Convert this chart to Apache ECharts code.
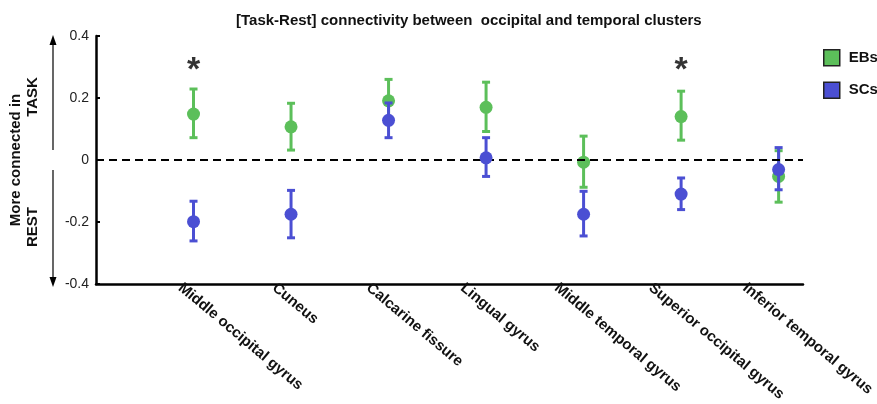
<!DOCTYPE html>
<html>
<head>
<meta charset="utf-8">
<script src="https://cdn.jsdelivr.net/npm/echarts@6/dist/echarts.min.js"></script>
<style>html,body{margin:0;padding:0;background:#fff}#c{width:877px;height:404px}</style>
</head>
<body>
<div id="c"></div>
<script>
var categories = ['Middle occipital gyrus','Cuneus','Calcarine fissure','Lingual gyrus','Middle temporal gyrus','Superior occipital gyrus','Inferior temporal gyrus'];
var positions = [1,2,3,4,5,6,7];
var ebMean = [0.148, 0.107, 0.191, 0.170, -0.007, 0.140, -0.053];
var ebHigh = [0.229, 0.183, 0.260, 0.251, 0.077, 0.222, 0.030];
var ebLow  = [0.072, 0.032, 0.122, 0.092, -0.088, 0.064, -0.136];
var scMean = [-0.199, -0.175, 0.128, 0.007, -0.175, -0.110, -0.031];
var scHigh = [-0.133, -0.098, 0.184, 0.072, -0.101, -0.058, 0.040];
var scLow  = [-0.261, -0.251, 0.072, -0.053, -0.245, -0.160, -0.096];
var significance = ['*','','','','','*',''];
var starLevel = 0.315;
var yTicks = [-0.4,-0.2,0,0.2,0.4];

var GREEN = '#5cbf5a', BLUE = '#4b4fd3';
var FONT = 'Liberation Sans, Arial, sans-serif';

function errData(lo, hi){ return positions.map(function(p,i){ return [p, lo[i], hi[i]]; }); }
function ptData(m){ return positions.map(function(p,i){ return [p, m[i]]; }); }
function errRender(color){
  return function(params, api){
    var x = api.value(0);
    var lo = api.coord([x, api.value(1)]);
    var hi = api.coord([x, api.value(2)]);
    var cw = 4;
    var st = {stroke: color, lineWidth: 3};
    return {type:'group', children:[
      {type:'line', shape:{x1:lo[0], y1:lo[1], x2:hi[0], y2:hi[1]}, style:st},
      {type:'line', shape:{x1:lo[0]-cw, y1:lo[1], x2:lo[0]+cw, y2:lo[1]}, style:st},
      {type:'line', shape:{x1:hi[0]-cw, y1:hi[1], x2:hi[0]+cw, y2:hi[1]}, style:st}
    ]};
  };
}

var chart = echarts.init(document.getElementById('c'), null, {renderer:'canvas'});
chart.setOption({
  animation: false,
  backgroundColor: '#fff',
  title: {
    text: '[Task-Rest] connectivity between  occipital and temporal clusters',
    left: 231, top: 8,
    textStyle: {fontFamily: FONT, fontSize: 15, fontWeight: 'bold', color: '#111'}
  },
  legend: {
    orient: 'vertical', left: 818, top: 44, itemWidth: 16, itemHeight: 16, itemGap: 15,
    icon: 'rect',
    data: [
      {name:'EBs', itemStyle:{color: GREEN, borderColor:'#222', borderWidth:1.5}},
      {name:'SCs', itemStyle:{color: BLUE, borderColor:'#222', borderWidth:1.5}}
    ],
    textStyle: {fontFamily: FONT, fontSize: 15, fontWeight: 'bold', color: '#111', padding:[0,0,0,4]}
  },
  grid: [
    {left: 96, right: 74, top: 36, bottom: 120},
    {left: 133, right: 77, top: 36, bottom: 120}
  ],
  xAxis: [
    {type:'value', gridIndex:0, min:0, max:7.25, axisLine:{show:true, onZero:false, lineStyle:{color:'#000', width:2.5}},
     axisTick:{show:false}, axisLabel:{show:false}, splitLine:{show:false}},
    {type:'category', gridIndex:1, data: categories, boundaryGap:true,
     axisLine:{show:false}, axisTick:{show:false}, splitLine:{show:false},
     axisLabel:{show:true, interval:0, rotate:-40, margin:12, fontFamily: FONT, fontSize:15, fontWeight:'bold', color:'#111'}}
  ],
  yAxis: [
    {type:'value', gridIndex:0, min:-0.4, max:0.4, interval:0.2,
     axisLine:{show:true, lineStyle:{color:'#000', width:2.5}},
     axisTick:{show:true, inside:true, length:4, lineStyle:{color:'#000', width:2}},
     splitLine:{show:false},
     axisLabel:{fontFamily: FONT, fontSize:14, color:'#222', margin:7,
       formatter:function(v){ return Math.abs(v)<1e-9 ? '0' : v.toFixed(1); }}},
    {type:'value', gridIndex:1, min:-0.4, max:0.4, show:false}
  ],
  graphic: [
    {type:'text', x:16, y:160, rotation:Math.PI/2, style:{text:'More connected in', font:'bold 15px Liberation Sans, Arial, sans-serif', fill:'#111', align:'center', verticalAlign:'middle'}},
    {type:'text', x:33, y:97, rotation:Math.PI/2, style:{text:'TASK', font:'bold 15px Liberation Sans, Arial, sans-serif', fill:'#111', align:'center', verticalAlign:'middle'}},
    {type:'text', x:33, y:227, rotation:Math.PI/2, style:{text:'REST', font:'bold 15px Liberation Sans, Arial, sans-serif', fill:'#111', align:'center', verticalAlign:'middle'}},
    {type:'line', shape:{x1:53, y1:150, x2:53, y2:42}, style:{stroke:'#000', lineWidth:1.2}},
    {type:'polygon', shape:{points:[[53,35],[49.5,45],[56.5,45]]}, style:{fill:'#000'}},
    {type:'line', shape:{x1:53, y1:170, x2:53, y2:279}, style:{stroke:'#000', lineWidth:1.2}},
    {type:'polygon', shape:{points:[[53,287],[49.5,277],[56.5,277]]}, style:{fill:'#000'}}
  ],
  series: [
    {type:'line', xAxisIndex:0, yAxisIndex:0, data:[], z:1, silent:true,
     markLine:{silent:true, symbol:['none','none'], label:{show:false},
       lineStyle:{color:'#000', width:2, type:[8,5]}, data:[{yAxis:0}]}},
    {type:'custom', name:'EBs', xAxisIndex:0, yAxisIndex:0, z:2, renderItem: errRender(GREEN), data: errData(ebLow, ebHigh), itemStyle:{color:GREEN}},
    {type:'scatter', name:'EBs', xAxisIndex:0, yAxisIndex:0, z:3, symbolSize:13, data: ptData(ebMean), itemStyle:{color:GREEN, opacity:1}},
    {type:'custom', name:'SCs', xAxisIndex:0, yAxisIndex:0, z:4, renderItem: errRender(BLUE), data: errData(scLow, scHigh), itemStyle:{color:BLUE}},
    {type:'scatter', name:'SCs', xAxisIndex:0, yAxisIndex:0, z:5, symbolSize:13, data: ptData(scMean), itemStyle:{color:BLUE, opacity:1}},
    {type:'scatter', xAxisIndex:0, yAxisIndex:0, z:6, symbolSize:2, itemStyle:{color:'rgba(0,0,0,0)'},
     data: positions.map(function(p,i){ return {value:[p, starLevel], label:{show: significance[i] !== ''}}; }),
     label:{show:true, position:'inside', offset:[0,8], formatter:function(p){ return significance[p.dataIndex]; },
       fontFamily: FONT, fontSize:34, fontWeight:'bold', color:'#000'}}
  ]
});
</script>
</body>
</html>
